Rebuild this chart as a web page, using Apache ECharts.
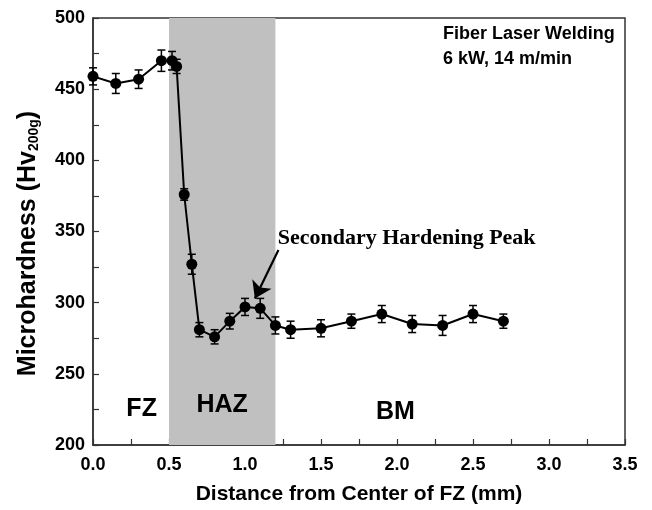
<!DOCTYPE html>
<html>
<head>
<meta charset="utf-8">
<script src="https://cdn.jsdelivr.net/npm/echarts@6/dist/echarts.min.js"></script>
<style>
  html, body { margin: 0; padding: 0; background: #fff; }
  #main { width: 652px; height: 510px; }
</style>
</head>
<body>
<div id="main"></div>
<script>
// distance from center of fusion zone (mm)
var distance = [0, 0.15, 0.3, 0.45, 0.52, 0.55, 0.6, 0.65, 0.7, 0.8, 0.9, 1.0, 1.1, 1.2, 1.3, 1.5, 1.7, 1.9, 2.1, 2.3, 2.5, 2.7];
// microhardness Hv200g
var hardness = [459, 454, 457, 470, 470, 466, 376, 327, 281, 276, 287, 297, 296, 284, 281, 282, 287, 292, 285, 284, 292, 287];
// error (+/-)
var errors = [6, 7, 6.5, 7.5, 6.5, 5, 4, 7, 5, 5, 5.5, 6, 7, 6, 6, 6, 5, 6, 6, 7, 6, 5];

var hazRange = [0.5, 1.2];
var zoneLabels = [
    { name: 'FZ', coord: [0.32, 225] },
    { name: 'HAZ', coord: [0.85, 228] },
    { name: 'BM', coord: [1.99, 223] }
];
var arrowFrom = [1.22, 337];
var arrowTo = [1.065, 303];
var peakLabel = [1.215, 345];

var font = 'Liberation Sans, Arial, sans-serif';
var serif = '"Liberation Serif", "Times New Roman", serif';

var lineData = distance.map(function (d, i) { return [d, hardness[i]]; });
var errData = distance.map(function (d, i) { return [d, hardness[i] - errors[i], hardness[i] + errors[i]]; });

var myChart = echarts.init(document.getElementById('main'));

var zonePoints = zoneLabels.map(function (z) {
    return {
        name: z.name,
        coord: z.coord,
        label: { fontFamily: font, fontWeight: 'bold', fontSize: 25 }
    };
});
zonePoints.push({
    name: 'Secondary Hardening Peak',
    coord: peakLabel,
    label: { position: 'right', distance: 0, fontFamily: serif, fontWeight: 'bold', fontSize: 22 }
});

var option = {
    animation: false,
    backgroundColor: '#fff',
    grid: {
        left: 93,
        right: 27,
        top: 18,
        bottom: 62,
        show: true,
        borderColor: '#333',
        borderWidth: 1.5
    },
    graphic: [
        {
            type: 'text',
            left: 443,
            top: 22,
            style: {
                text: 'Fiber Laser Welding\n6 kW, 14 m/min',
                font: 'bold 18px ' + font,
                lineHeight: 25,
                fill: '#000'
            }
        }
    ],
    xAxis: {
        type: 'value',
        min: 0,
        max: 3.5,
        interval: 0.5,
        name: 'Distance from Center of FZ (mm)',
        nameLocation: 'middle',
        nameGap: 39,
        nameTextStyle: { fontFamily: font, fontWeight: 'bold', fontSize: 21, color: '#000' },
        axisLine: { lineStyle: { color: '#333', width: 1.5 } },
        axisTick: { inside: true, length: 6, lineStyle: { color: '#333', width: 1.2 } },
        minorTick: { show: true, splitNumber: 2, length: 6, lineStyle: { color: '#333', width: 1.2 } },
        splitLine: { show: false },
        axisLabel: {
            fontFamily: font, fontWeight: 'bold', fontSize: 18, color: '#000', margin: 11,
            formatter: function (v) { return v.toFixed(1); }
        }
    },
    yAxis: {
        type: 'value',
        min: 200,
        max: 500,
        interval: 50,
        name: 'Microhardness (Hv{s|200g})',
        nameLocation: 'middle',
        nameGap: 52,
        nameRotate: 90,
        nameTextStyle: {
            fontFamily: font, fontWeight: 'bold', fontSize: 25, color: '#000',
            padding: [0, 24, 0, 0],
            rich: {
                s: { fontFamily: font, fontWeight: 'bold', fontSize: 14, color: '#000', padding: [12, 0, 0, 0] }
            }
        },
        axisLine: { lineStyle: { color: '#333', width: 1.5 } },
        axisTick: { inside: true, length: 6, lineStyle: { color: '#333', width: 1.2 } },
        minorTick: { show: true, splitNumber: 2, length: 6, lineStyle: { color: '#333', width: 1.2 } },
        splitLine: { show: false },
        axisLabel: { fontFamily: font, fontWeight: 'bold', fontSize: 18, color: '#000', margin: 8 }
    },
    series: [
        {
            type: 'line',
            data: lineData,
            symbol: 'circle',
            symbolSize: 11,
            z: 3,
            itemStyle: { color: '#000' },
            lineStyle: { color: '#000', width: 2 },
            markArea: {
                silent: true,
                itemStyle: { color: '#c0c0c0' },
                data: [[{ xAxis: hazRange[0] }, { xAxis: hazRange[1] }]]
            },
            markPoint: {
                symbol: 'rect',
                symbolSize: 0,
                silent: true,
                label: {
                    show: true,
                    color: '#000',
                    formatter: '{b}'
                },
                data: zonePoints
            },
            markLine: {
                silent: true,
                symbol: ['none', 'arrow'],
                symbolSize: 16,
                lineStyle: { color: '#000', width: 2.2, type: 'solid' },
                itemStyle: { color: '#000' },
                label: { show: false },
                data: [[{ coord: arrowFrom }, { coord: arrowTo }]]
            }
        },
        {
            type: 'custom',
            z: 2,
            data: errData,
            renderItem: function (params, api) {
                var x = api.value(0);
                var lo = api.coord([x, api.value(1)]);
                var hi = api.coord([x, api.value(2)]);
                var w = 4;
                var st = { stroke: '#000', lineWidth: 1.5 };
                return {
                    type: 'group',
                    children: [
                        { type: 'line', shape: { x1: lo[0], y1: lo[1], x2: hi[0], y2: hi[1] }, style: st },
                        { type: 'line', shape: { x1: lo[0] - w, y1: lo[1], x2: lo[0] + w, y2: lo[1] }, style: st },
                        { type: 'line', shape: { x1: hi[0] - w, y1: hi[1], x2: hi[0] + w, y2: hi[1] }, style: st }
                    ]
                };
            }
        }
    ]
};

myChart.setOption(option);
</script>
</body>
</html>
